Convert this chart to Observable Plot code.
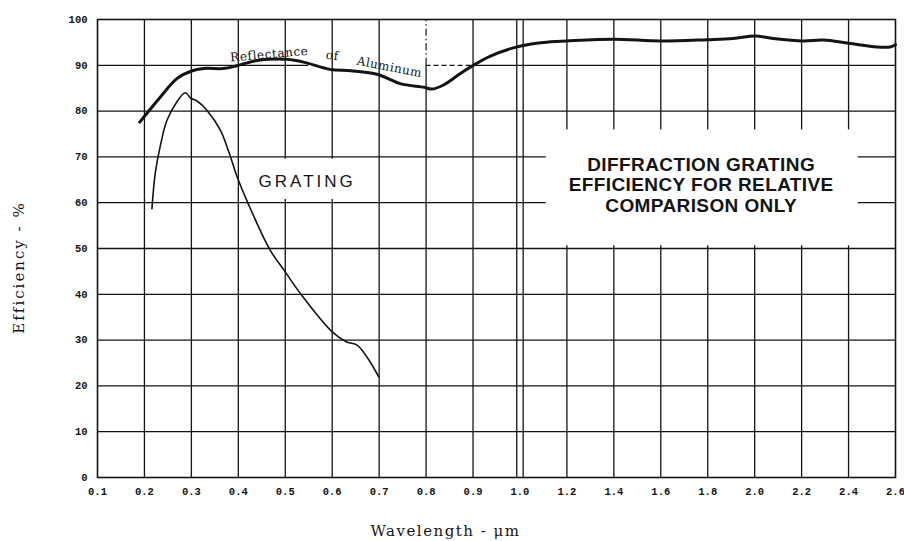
<!DOCTYPE html>
<html><head><meta charset="utf-8">
<script src="https://cdn.jsdelivr.net/npm/d3@7"></script>
<script src="https://cdn.jsdelivr.net/npm/@observablehq/plot@0.6"></script>
<style>
html,body{margin:0;padding:0;background:#fff;}
</style>
</head><body><div id="chart"></div>
<script>
// ---- data ----
const xTicks = [0.1,0.2,0.3,0.4,0.5,0.6,0.7,0.8,0.9,1.0,1.2,1.4,1.6,1.8,2.0,2.2,2.4,2.6];
const yTicks = [0,10,20,30,40,50,60,70,80,90,100];

const aluminumWavelength  = [0.19,0.234,0.269,0.299,0.326,0.368,0.397,0.432,0.461,0.503,0.539,0.596,0.64,0.697,0.745,0.796,0.812,0.837,0.873,0.894,0.937,0.986,1.042,1.1,1.198,1.397,1.599,1.799,1.908,2.003,2.079,2.207,2.292,2.401,2.52,2.577,2.6];
const aluminumReflectance = [77.6,83.1,87.1,88.7,89.3,89.3,89.9,90.9,91.3,91.3,90.7,89.1,88.8,88.0,86.0,85.2,84.8,85.7,88.2,89.6,92.0,93.8,94.6,95.0,95.3,95.7,95.3,95.6,95.85,96.4,95.85,95.3,95.5,94.8,94.0,94.0,94.5];

const gratingWavelength = [0.216,0.223,0.234,0.248,0.269,0.287,0.299,0.312,0.333,0.362,0.38,0.398,0.418,0.468,0.5,0.532,0.6,0.631,0.653,0.674,0.699];
const gratingEfficiency = [58.7,66.4,72.5,78.0,82.0,84.0,82.8,82.2,80.2,75.8,71.0,65.5,60.5,49.6,44.9,40.2,31.8,29.6,28.9,26.3,22.0];

const xTitle = "Wavelength - μm";
const yTitle = "Efficiency - %";
const curveLabels = ["Reflectance", "of", "Aluminum"];
const gratingLabel = "GRATING";
const noteLabel = "DIFFRACTION GRATING\nEFFICIENCY FOR RELATIVE\nCOMPARISON ONLY";

// ---- derived tables ----
const aluminum = aluminumWavelength.map((w, i) => ({w, v: aluminumReflectance[i]}));
const grating = gratingWavelength.map((w, i) => ({w, v: gratingEfficiency[i]}));
const xFull = xTicks.filter(d => d !== 0.1 && d !== 2.6 && d !== 0.8 && d !== 1.0);
const yFull = yTicks.filter(d => d !== 0 && d !== 100 && d !== 90);

const ink = "#141414";
const serif = "DejaVu Serif";
const sans = "Liberation Sans";

const chart = Plot.plot({
  width: 904,
  height: 541,
  marginLeft: 97,
  marginRight: 9,
  marginTop: 19,
  marginBottom: 64,
  style: {fontFamily: "Liberation Mono", fontSize: "10.5px", fontWeight: "bold", color: ink, background: "#fff"},
  x: {type: "linear", domain: xTicks, ticks: xTicks, tickFormat: d => d.toFixed(1), tickSize: 0, tickPadding: 10, label: null},
  y: {domain: [0, 100], ticks: yTicks, tickFormat: d => String(d), tickSize: 0, tickPadding: 10, label: null},
  marks: [
    // grid
    Plot.ruleX(xFull, {stroke: ink, strokeWidth: 1.3}),
    Plot.ruleY(yFull, {stroke: ink, strokeWidth: 1.3}),
    Plot.ruleX([0.8], {y1: 0, y2: 90, stroke: ink, strokeWidth: 1.3}),
    Plot.ruleX([0.8], {y1: 90, y2: 100, stroke: ink, strokeWidth: 1.2, strokeDasharray: "7,3,1.5,3"}),
    Plot.ruleX([1.0], {dx: -3.2, stroke: ink, strokeWidth: 1.3}),
    Plot.ruleX([1.0], {dx: 3.2, stroke: ink, strokeWidth: 1.3}),
    Plot.ruleY([90], {x1: 0.1, x2: 0.55, stroke: ink, strokeWidth: 1.3}),
    Plot.ruleY([90], {x1: 0.8, x2: 0.9, stroke: ink, strokeWidth: 1.2, strokeDasharray: "5,3"}),
    Plot.ruleY([90], {x1: 0.9, x2: 2.6, stroke: ink, strokeWidth: 1.3}),
    // white label boxes
    Plot.rect([0], {x1: 0.43, x2: 0.68, y1: 60.7, y2: 69.5, fill: "white"}),
    Plot.rect([0], {x1: 1.112, x2: 2.441, y1: 50.6, y2: 75.9, fill: "white"}),
    Plot.frame({stroke: ink, strokeWidth: 1.6}),
    // curves
    Plot.line(aluminum, {x: "w", y: "v", curve: "catmull-rom", stroke: ink, strokeWidth: 3}),
    Plot.line(grating, {x: "w", y: "v", curve: "catmull-rom", stroke: ink, strokeWidth: 1.6}),
    // curve labels
    Plot.text([curveLabels[0]], {x: 0.466, y: 92.4, rotate: -5, fontFamily: serif, fontSize: 12, fontWeight: "normal", fill: ink}),
    Plot.text([curveLabels[1]], {x: 0.6, y: 92.1, rotate: 6, fontFamily: serif, fontSize: 12, fontWeight: "normal", fill: ink}),
    Plot.text([curveLabels[2]], {x: 0.722, y: 89.6, rotate: 11, fontFamily: serif, fontSize: 12, fontWeight: "normal", fill: ink}),
    Plot.text([gratingLabel], {x: 0.5435, y: 64.7, dx: 1.5, fontFamily: sans, fontSize: 17, fontWeight: "normal", fill: ink}),
    Plot.text([noteLabel], {x: 1.772, y: 63.9, fontFamily: sans, fontSize: 19, fontWeight: "bold", lineHeight: 1.08, fill: ink}),
    // axis titles
    Plot.text([xTitle], {frameAnchor: "bottom", textAnchor: "middle", lineAnchor: "middle", dx: -51, dy: 54, fontFamily: serif, fontSize: 15, fontWeight: "normal", fill: ink}),
    Plot.text([yTitle], {frameAnchor: "left", textAnchor: "middle", lineAnchor: "middle", dx: -78, dy: 19, rotate: -90, fontFamily: serif, fontSize: 15, fontWeight: "normal", fill: ink})
  ]
});

document.getElementById("chart").appendChild(chart);
const spacing = new Map([
  [curveLabels[0], 0.6], [curveLabels[1], 0.6], [curveLabels[2], 0.5],
  [gratingLabel, 3],
  [noteLabel.replace(/\n/g, ""), 0.4],
  [xTitle, 1.5], [yTitle, 2]
]);
d3.select(chart).selectAll("text").each(function() {
  const s = spacing.get(this.textContent);
  if (s != null) this.setAttribute("letter-spacing", s);
});
</script>
</body></html>
